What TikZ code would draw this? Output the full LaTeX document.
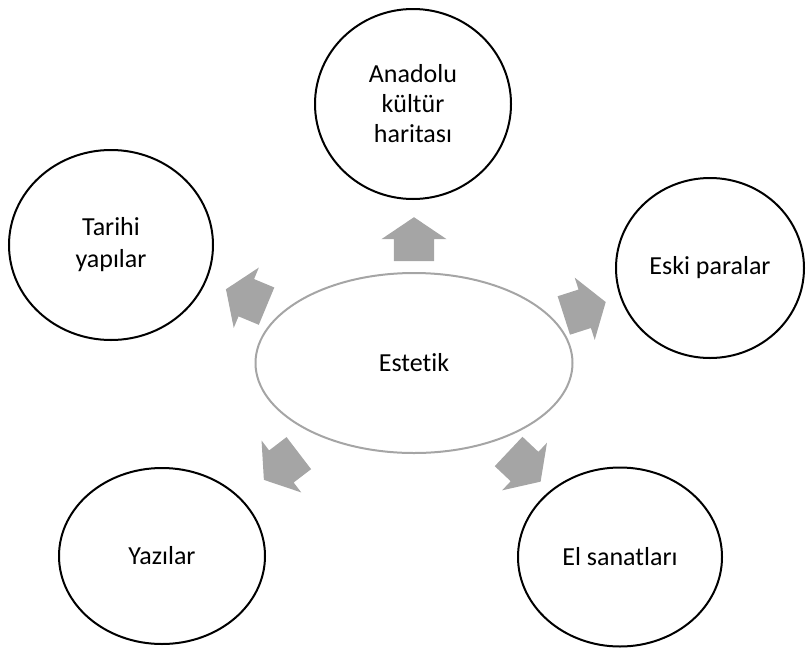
\documentclass[tikz,border=0pt]{standalone}
\usepackage{fontspec}
\setmainfont{Carlito}[Ligatures=NoCommon]
\usepackage{tikz}
\usetikzlibrary{shapes.geometric,shapes.arrows}
\definecolor{softgray}{HTML}{A5A5A5}
\tikzset{
  every picture/.style = {
    x = 1pt,
    y = -1pt,
  }
  ,
  topic/.style = {
    ellipse,
    draw,
    line width = 2pt,
    inner sep = 0pt,
    align = center,
    font = \fontsize{26}{30}\selectfont
  }
  , % central idea
  core/.style = {
    topic,
    draw = softgray,
    line width = 2pt,
    minimum width = 317pt,
    minimum height = 180pt
  }
  , % block arrows
  pointer/.style = {
    single arrow,
    fill = softgray,
    draw = none,
    inner xsep = 0pt,
    inner ysep = 20pt,
    minimum height = 44pt,
    single arrow head extend = 12.5pt,
    single arrow tip angle = 112
  }
}
\begin{document}
\begin{tikzpicture}
    \useasboundingbox (0,0) rectangle (808,648);
    \node [core] (estetik) at (414,363) {Estetik};
    \node [topic, minimum width = 196pt, minimum height = 190pt] (anadolu) at (413,104) {Anadolu\\kültür\\haritası};
    \node [topic, minimum width = 204pt, minimum height = 190pt] (tarihi) at (111,245) {Tarihi\\[2pt]yapılar};
    \node [topic, minimum width = 188pt, minimum height = 180pt] (eski) at (710,268) {Eski paralar};
    \node [topic, minimum width = 206pt, minimum height = 176pt] (yazilar) at (162,556) {Yazılar};
    \node [topic, minimum width = 204pt, minimum height = 179pt] (el) at (620,557) {El sanatları};
    \node [pointer, rotate = 90, xshift = -6pt] (a-anadolu) at (414,240) {};
    \node [pointer, rotate = 157.4, xshift = -6pt] (a-tarihi) at (247,298) {};
    \node [pointer, rotate = 17.8, xshift = -6pt] (a-eski) at (584,309) {};
    \node [pointer, rotate = 217.4, xshift = -6pt] (a-yazilar) at (282,466) {};
    \node [pointer, rotate = -43.3, xshift = -6pt] (a-el) at (524,466) {};
\end{tikzpicture}
\end{document}
